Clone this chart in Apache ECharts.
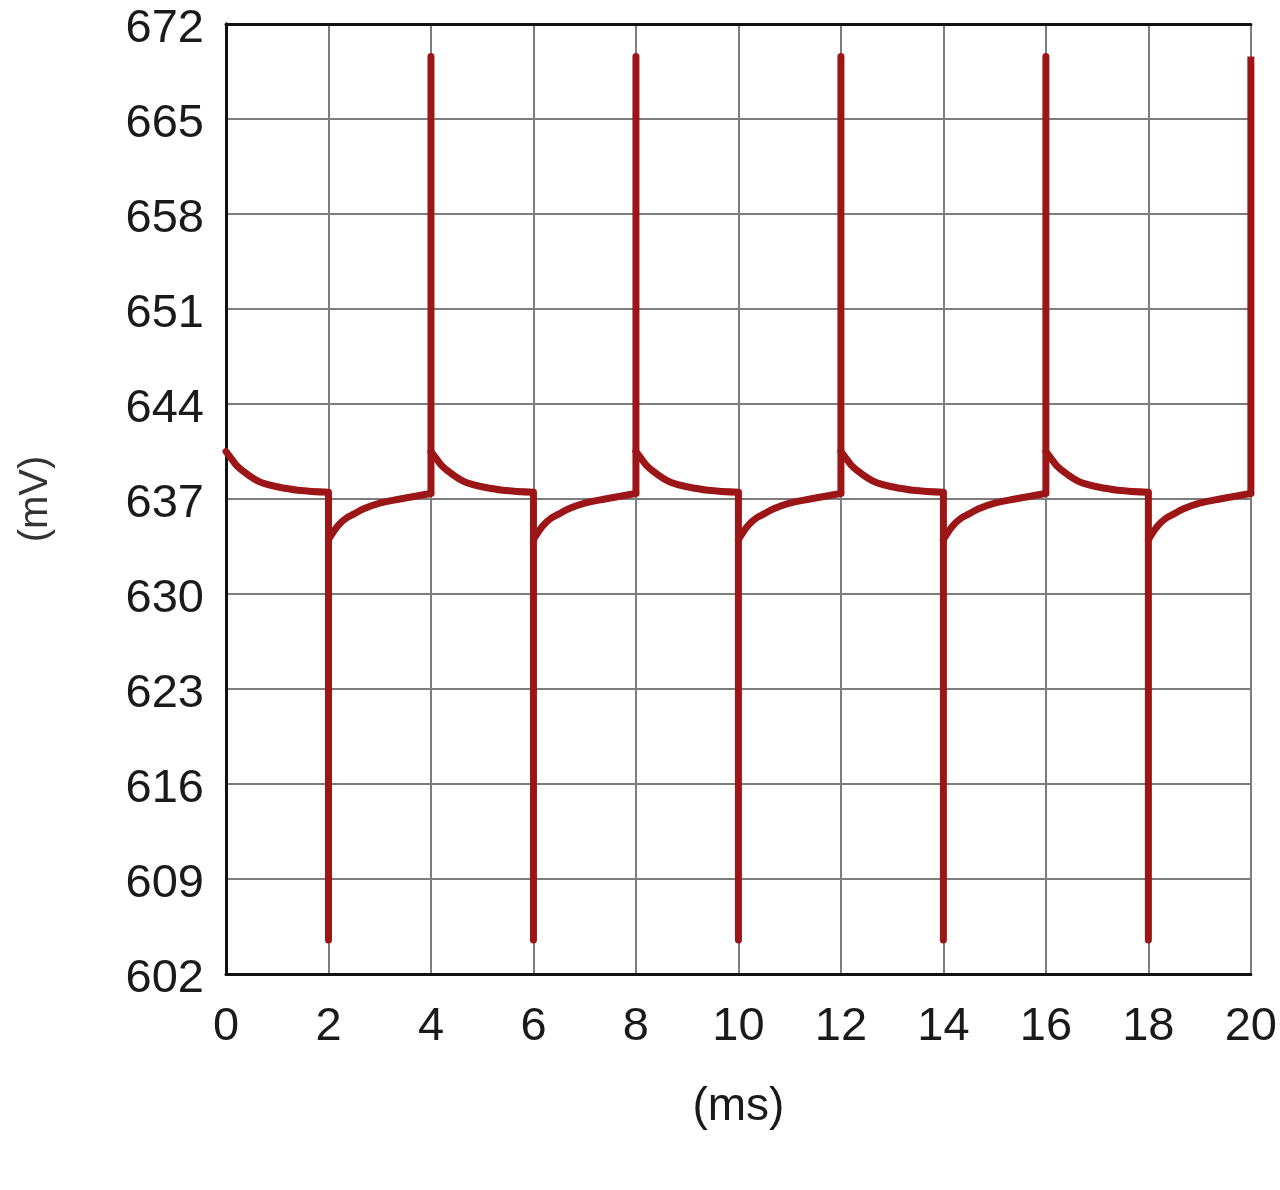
<!DOCTYPE html>
<html>
<head>
<meta charset="utf-8">
<script src="https://cdn.jsdelivr.net/npm/echarts@6/dist/echarts.min.js"></script>
<style>
html,body{margin:0;padding:0;background:#fff;}
#chart{width:1280px;height:1190px;}
</style>
</head>
<body>
<div id="chart"></div>
<script>
// Time (ms) and voltage (mV)
var timeMs = [
  0, 0.1, 0.2, 0.35, 0.5, 0.7, 1.0, 1.4, 2.0, 2.0, 2.0, 2.1, 2.2, 2.35, 2.5, 2.7, 3.0, 3.4, 4.0,
  4.0, 4.0, 4.1, 4.2, 4.35, 4.5, 4.7, 5.0, 5.4, 6.0, 6.0, 6.0, 6.1, 6.2, 6.35, 6.5, 6.7, 7.0, 7.4, 8.0,
  8.0, 8.0, 8.1, 8.2, 8.35, 8.5, 8.7, 9.0, 9.4, 10.0, 10.0, 10.0, 10.1, 10.2, 10.35, 10.5, 10.7, 11.0, 11.4, 12.0,
  12.0, 12.0, 12.1, 12.2, 12.35, 12.5, 12.7, 13.0, 13.4, 14.0, 14.0, 14.0, 14.1, 14.2, 14.35, 14.5, 14.7, 15.0, 15.4, 16.0,
  16.0, 16.0, 16.1, 16.2, 16.35, 16.5, 16.7, 17.0, 17.4, 18.0, 18.0, 18.0, 18.1, 18.2, 18.35, 18.5, 18.7, 19.0, 19.4, 20.0,
  20.0
];
var voltageMv = [
  640.5, 640.0, 639.5, 639.0, 638.6, 638.2, 637.9, 637.65, 637.5, 604.5, 634.0, 634.6, 635.1, 635.6, 635.9, 636.3, 636.7, 637.0, 637.4,
  669.6, 640.5, 640.0, 639.5, 639.0, 638.6, 638.2, 637.9, 637.65, 637.5, 604.5, 634.0, 634.6, 635.1, 635.6, 635.9, 636.3, 636.7, 637.0, 637.4,
  669.6, 640.5, 640.0, 639.5, 639.0, 638.6, 638.2, 637.9, 637.65, 637.5, 604.5, 634.0, 634.6, 635.1, 635.6, 635.9, 636.3, 636.7, 637.0, 637.4,
  669.6, 640.5, 640.0, 639.5, 639.0, 638.6, 638.2, 637.9, 637.65, 637.5, 604.5, 634.0, 634.6, 635.1, 635.6, 635.9, 636.3, 636.7, 637.0, 637.4,
  669.6, 640.5, 640.0, 639.5, 639.0, 638.6, 638.2, 637.9, 637.65, 637.5, 604.5, 634.0, 634.6, 635.1, 635.6, 635.9, 636.3, 636.7, 637.0, 637.4,
  669.6
];
var xTicks = [0, 2, 4, 6, 8, 10, 12, 14, 16, 18, 20];
var yTicks = [602, 609, 616, 623, 630, 637, 644, 651, 658, 665, 672];
var xName = '(ms)';
var yName = '(mV)';

var data = timeMs.map(function (t, i) { return [t, voltageMv[i]]; });

// split the trace into vertical (spike) runs and curved runs
var runs = [];
var cur = null;
for (var i = 1; i < data.length; i++) {
  var vertical = data[i][0] === data[i - 1][0];
  if (!cur || cur.vertical !== vertical) {
    cur = { vertical: vertical, pts: [data[i - 1]] };
    runs.push(cur);
  }
  cur.pts.push(data[i]);
}
var lineColor = '#9c1618';
var series = runs.map(function (r) {
  return {
    type: 'line',
    data: r.pts,
    showSymbol: false,
    smooth: r.vertical ? false : 0.4,
    clip: true,
    lineStyle: { color: lineColor, width: 7, join: 'round', cap: r.vertical ? 'butt' : 'round' },
    z: 5,
    silent: true
  };
});

var chart = echarts.init(document.getElementById('chart'));
var font = '"Liberation Sans", Arial, Helvetica, sans-serif';
var xMin = xTicks[0], xMax = xTicks[xTicks.length - 1];
var yMin = yTicks[0], yMax = yTicks[yTicks.length - 1];
var border = { show: true, lineStyle: { color: '#111111', width: 3 } };
chart.setOption({
  animation: false,
  backgroundColor: '#ffffff',
  grid: { left: 226, right: 22, top: 24, bottom: 216 },
  xAxis: [{
    type: 'value', min: xMin, max: xMax, interval: 2,
    name: xName, nameLocation: 'middle', nameGap: 110,
    nameTextStyle: { fontFamily: font, fontSize: 46, color: '#1a1a1a' },
    axisLine: border, axisTick: { show: false },
    axisLabel: { fontFamily: font, fontSize: 47, color: '#1a1a1a', margin: 30 },
    splitLine: { show: true, lineStyle: { color: '#7d7d7d', width: 2 } }
  }, {
    type: 'value', position: 'top', min: xMin, max: xMax, interval: 2,
    axisLine: border, axisTick: { show: false }, axisLabel: { show: false }, splitLine: { show: false }
  }],
  yAxis: [{
    type: 'value', min: yMin, max: yMax, interval: 7,
    name: yName, nameLocation: 'middle', nameGap: 170, nameRotate: 90,
    nameTextStyle: { fontFamily: font, fontSize: 40, color: '#333333' },
    axisLine: border, axisTick: { show: false },
    axisLabel: { fontFamily: font, fontSize: 47, color: '#1a1a1a', margin: 22, verticalAlign: 'top', lineHeight: 10 },
    splitLine: { show: true, lineStyle: { color: '#7d7d7d', width: 2 } }
  }, {
    type: 'value', position: 'right', min: yMin, max: yMax, interval: 7,
    axisLine: border, axisTick: { show: false }, axisLabel: { show: false }, splitLine: { show: false }
  }],
  series: series
});
</script>
</body>
</html>
